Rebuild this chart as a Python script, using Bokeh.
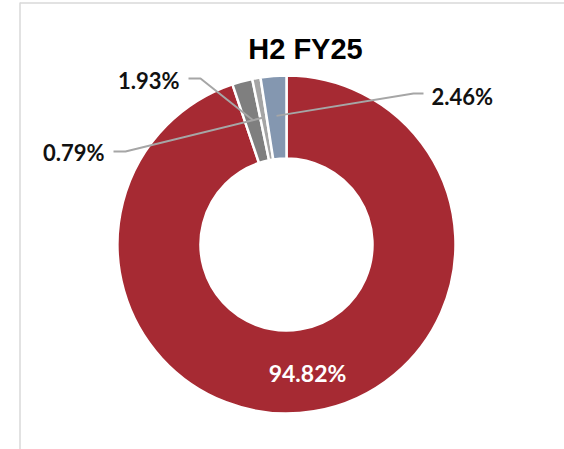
import math
from bokeh.plotting import figure
from bokeh.models import Range1d
from bokeh.embed import file_html
from bokeh.resources import INLINE
from bokeh.core.properties import value

# ---- data ----
title_text = "H2 FY25"
categories = ["A", "B", "C", "D"]
values = [94.82, 1.93, 0.79, 2.46]
labels = ["94.82%", "1.93%", "0.79%", "2.46%"]
colors = ["#A62A33", "#7F7F7F", "#A5A5A5", "#8497B0"]

W, H = 564, 449
p = figure(width=W, height=H, output_backend="svg", toolbar_location=None,
           x_range=Range1d(0, W), y_range=Range1d(0, H), min_border=0)
p.axis.visible = False
p.grid.visible = False
p.outline_line_color = None
p.background_fill_color = "white"

def fx(ix):
    return ix

def fy(iy):
    return H - iy

cx, cy = fx(286), fy(244)
r_out, r_in = 169, 86

total = sum(values)
starts, ends, mids = [], [], []
cum = 0.0
for v in values:
    a0 = math.pi / 2 - cum / total * 2 * math.pi
    cum += v
    a1 = math.pi / 2 - cum / total * 2 * math.pi
    starts.append(a0)
    ends.append(a1)
    mids.append((a0 + a1) / 2)

p.annular_wedge(x=cx, y=cy, inner_radius=r_in, outer_radius=r_out,
                start_angle=ends, end_angle=starts, direction="anticlock",
                fill_color=colors, line_color="white", line_width=2.5)

# frame lines
p.line([fx(19.5), fx(19.5)], [0, fy(2)], line_color="#D9D9D9", line_width=1.5)
p.line([fx(19.5), W], [fy(2.5), fy(2.5)], line_color="#D9D9D9", line_width=1.5)

# title
p.text(x=[fx(305)], y=[fy(48)], text=[title_text], text_font=value("Liberation Sans"),
       text_font_style="bold", text_font_size="29px", text_align="center",
       text_baseline="middle", text_color="black")

# big label inside
p.text(x=[fx(307)], y=[fy(372)], text=[labels[0]], text_font=value("Lato"),
       text_font_style="bold", text_font_size="23px", text_align="center",
       text_baseline="middle", text_color="white")

# leader lines and outer labels: (elbow img pts, label pos, align)
r_lab = 129
layout = {
    1: ([(200, 78), (188, 78)], (179, 80), "right"),
    2: ([(125, 151), (113, 151)], (104, 152), "right"),
    3: ([(413, 93), (423, 93)], (431, 96), "left"),
}
for i, (elbows, lpos, align) in layout.items():
    sx = cx + r_lab * math.cos(mids[i])
    sy = cy + r_lab * math.sin(mids[i])
    xs = [sx] + [fx(e[0]) for e in elbows]
    ys = [sy] + [fy(e[1]) for e in elbows]
    p.line(xs, ys, line_color="#A6A6A6", line_width=2)
    p.text(x=[fx(lpos[0])], y=[fy(lpos[1])], text=[labels[i]], text_font=value("Lato"),
           text_font_style="bold", text_font_size="22px", text_align=align,
           text_baseline="middle", text_color="#111111")

open("out.html", "w").write(file_html(p, INLINE))
